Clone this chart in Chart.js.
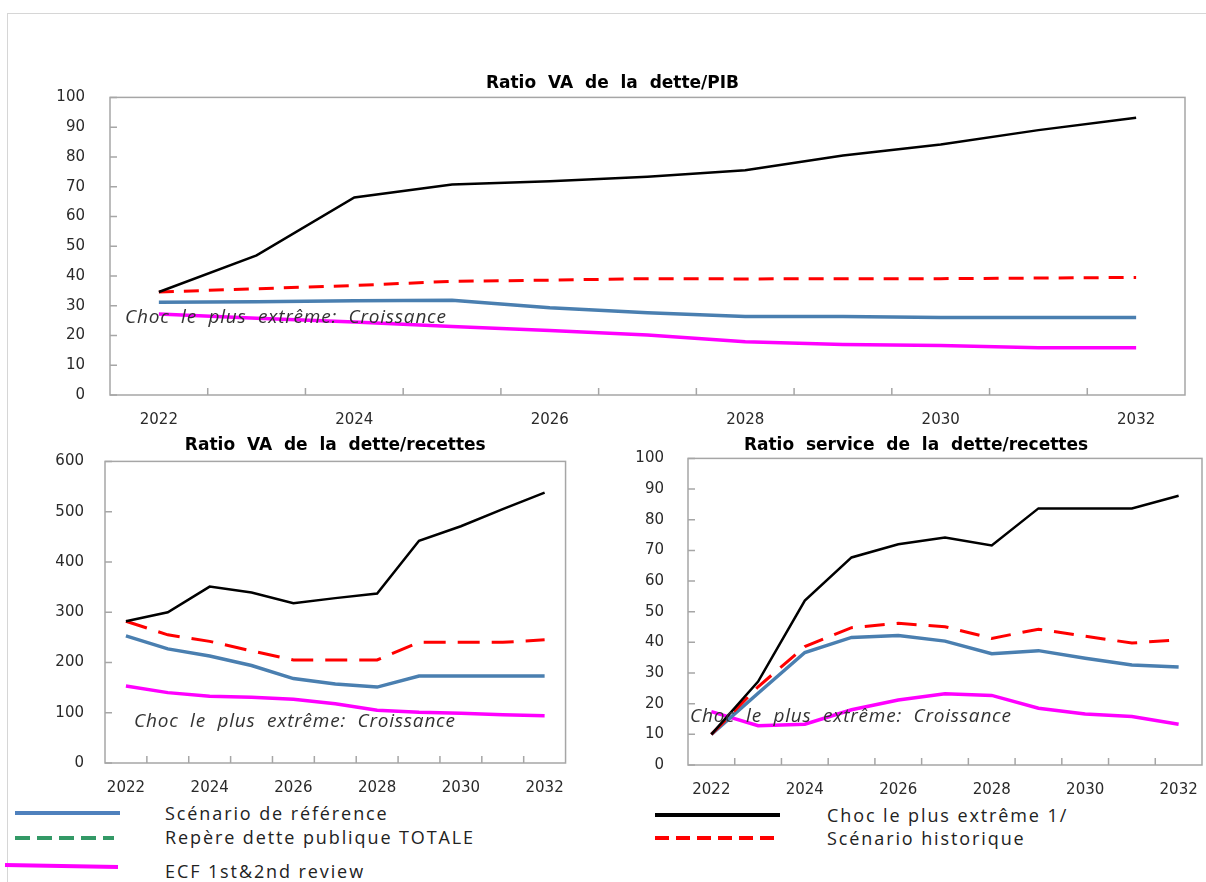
<!DOCTYPE html>
<html>
<head>
<meta charset="utf-8">
<script src="https://cdn.jsdelivr.net/npm/chart.js@4.4.1/dist/chart.umd.min.js"></script>
<style>
body { margin: 0; background: #fff; width: 1206px; height: 882px; position: relative; overflow: hidden; font-family: "DejaVu Sans", sans-serif; }
.frame { position: absolute; left: 7px; top: 13px; width: 1210px; height: 880px; border-left: 1px solid #d6d6d6; border-top: 1px solid #d6d6d6; }
canvas { position: absolute; }
.leg { position: absolute; font-family: "Open Sans", sans-serif; font-size: 18px; line-height: 24px; color: #222; letter-spacing: 1.9px; white-space: nowrap; }
svg { position: absolute; left: 0; top: 795px; }
</style>
</head>
<body>
<div class="frame"></div>
<canvas id="chartPib" width="1155" height="355" style="left:40px;top:70px"></canvas>
<canvas id="chartVaRec" width="537" height="361" style="left:35px;top:432px"></canvas>
<canvas id="chartServ" width="576" height="363" style="left:630px;top:432px"></canvas>

<svg width="1206" height="87">
  <line x1="15" y1="18" x2="120" y2="18" stroke="#4f81bd" stroke-width="4"/>
  <line x1="15" y1="43" x2="114" y2="43" stroke="#339966" stroke-width="4" stroke-dasharray="15 7"/>
  <line x1="5" y1="70" x2="118" y2="72" stroke="#ff00ff" stroke-width="4"/>
  <line x1="655" y1="20" x2="780" y2="20" stroke="#000" stroke-width="4"/>
  <line x1="655" y1="43" x2="780" y2="43" stroke="#ff0000" stroke-width="4" stroke-dasharray="14 7"/>
</svg>
<div class="leg" style="left:165px;top:801px">Scénario de référence</div>
<div class="leg" style="left:165px;top:825px">Repère dette publique TOTALE</div>
<div class="leg" style="left:165px;top:859px">ECF 1st&amp;2nd review</div>
<div class="leg" style="left:827px;top:803px">Choc le plus extrême 1/</div>
<div class="leg" style="left:827px;top:826px">Scénario historique</div>

<script>
const years = ["2022", "2023", "2024", "2025", "2026", "2027", "2028", "2029", "2030", "2031", "2032"];
const noteText = "Choc  le  plus  extrême:  Croissance";

// Ratio VA de la dette/PIB
const pibChoc = [34.6, 46.9, 66.4, 70.7, 71.8, 73.3, 75.5, 80.5, 84.2, 89.0, 93.2];
const pibHistorique = [34.6, 35.7, 36.8, 38.2, 38.6, 39.1, 39.0, 39.1, 39.1, 39.3, 39.5];
const pibReference = [31.2, 31.3, 31.7, 31.8, 29.3, 27.6, 26.4, 26.4, 26.0, 26.0, 26.0];
const pibEcf = [27.2, 25.8, 24.5, 23.0, 21.7, 20.2, 17.9, 17.0, 16.6, 15.9, 15.9];

// Ratio VA de la dette/recettes
const vaRecChoc = [282, 300, 351, 339, 318, 328, 337, 442, 471, 505, 538];
const vaRecHistorique = [282, 255, 242, 223, 205, 205, 205, 240, 240, 240, 245];
const vaRecReference = [253, 227, 213, 194, 168, 157, 151, 173, 173, 173, 173];
const vaRecEcf = [153, 140, 133, 131, 127, 118, 105, 101, 99, 96, 94];

// Ratio service de la dette/recettes
const servChoc = [10, 27.2, 53.6, 67.7, 72.0, 74.2, 71.6, 83.7, 83.7, 83.7, 87.8];
const servHistorique = [10, 25.5, 38.6, 44.8, 46.2, 45.1, 41.3, 44.3, 42.0, 39.8, 40.8];
const servReference = [10, 23.4, 36.7, 41.6, 42.2, 40.4, 36.3, 37.3, 34.8, 32.6, 32.0];
const servEcf = [17.4, 12.8, 13.3, 18.0, 21.2, 23.2, 22.7, 18.5, 16.6, 15.8, 13.3];

// cadre, petites graduations vers l'intérieur et note
const frameNote = {
    id: 'frameNote',
    afterDatasetsDraw(chart, args, opts) {
        const a = chart.chartArea;
        const ctx = chart.ctx;
        const yScale = chart.scales.y;
        ctx.save();
        ctx.strokeStyle = '#a6a6a6';
        ctx.lineWidth = 1.5;
        ctx.strokeRect(a.left, a.top, a.right - a.left, a.bottom - a.top);
        ctx.beginPath();
        yScale.ticks.forEach((t, i) => {
            const y = yScale.getPixelForTick(i);
            ctx.moveTo(a.left, y);
            ctx.lineTo(a.left + 7, y);
        });
        const n = chart.data.labels.length;
        const w = (a.right - a.left) / n;
        for (let i = 1; i < n; i++) {
            const x = a.left + i * w;
            ctx.moveTo(x, a.bottom);
            ctx.lineTo(x, a.bottom - 7);
        }
        ctx.stroke();
        ctx.font = 'italic 19px "Open Sans"';
        ctx.letterSpacing = '0.8px';
        ctx.fillStyle = '#333';
        ctx.textBaseline = 'middle';
        ctx.fillText(noteText, a.left + opts.dx, a.top + opts.dy);
        ctx.restore();
    }
};

function makeChart(id, cfg) {
    const ctx = document.getElementById(id).getContext('2d');
    return new Chart(ctx, {
        type: 'line',
        data: {
            labels: years,
            datasets: [
                { label: 'Choc le plus extrême 1/', data: cfg.choc, borderColor: '#000', borderWidth: 2.5 },
                { label: 'Scénario historique', data: cfg.hist, borderColor: '#ff0000', borderWidth: 3, borderDash: cfg.dash },
                { label: 'Scénario de référence', data: cfg.ref, borderColor: '#4a7fb0', borderWidth: 3.5 },
                { label: 'ECF 1st&2nd review', data: cfg.ecf, borderColor: '#ff00ff', borderWidth: 3.5 }
            ]
        },
        options: {
            responsive: false,
            animation: false,
            elements: { point: { radius: 0 }, line: { tension: 0, borderCapStyle: 'butt' } },
            layout: { padding: { right: cfg.rightPad, left: 0, top: 0, bottom: 0 } },
            plugins: {
                legend: { display: false },
                tooltip: { enabled: false },
                title: {
                    display: true,
                    text: cfg.title,
                    fullSize: cfg.fullSize,
                    color: '#000',
                    font: { family: 'DejaVu Sans', size: 17, weight: 'bold' },
                    padding: cfg.titlePad
                },
                frameNote: cfg.note
            },
            scales: {
                x: {
                    offset: true,
                    border: { display: false },
                    grid: { display: false },
                    ticks: {
                        autoSkip: false,
                        maxRotation: 0,
                        padding: 8,
                        color: '#2a2a2a',
                        font: { family: 'DejaVu Sans', size: 15 },
                        callback: (v, i) => (i % 2 === 0 ? years[i] : '')
                    },
                    afterFit: (s) => { s.height = 30; }
                },
                y: {
                    min: 0,
                    max: cfg.yMax,
                    border: { display: false },
                    grid: { display: false },
                    ticks: {
                        stepSize: cfg.yStep,
                        padding: cfg.yPad,
                        color: '#2a2a2a',
                        font: { family: 'DejaVu Sans', size: 15 }
                    },
                    afterFit: (s) => { s.width = cfg.yWidth; }
                }
            }
        },
        plugins: [frameNote]
    });
}

makeChart('chartPib', {
    title: 'Ratio  VA  de  la  dette/PIB', fullSize: true, titlePad: { top: 3, bottom: 4 },
    choc: pibChoc, hist: pibHistorique, ref: pibReference, ecf: pibEcf,
    dash: [15, 10], yMax: 100, yStep: 10, yWidth: 70, yPad: 17, rightPad: 10,
    note: { dx: 15, dy: 220 }
});

makeChart('chartVaRec', {
    title: 'Ratio  VA  de  la  dette/recettes', fullSize: false, titlePad: { top: 3, bottom: 6 },
    choc: vaRecChoc, hist: vaRecHistorique, ref: vaRecReference, ecf: vaRecEcf,
    dash: [22, 12], yMax: 600, yStep: 100, yWidth: 70, yPad: 13, rightPad: 5,
    note: { dx: 29, dy: 260 }
});

makeChart('chartServ', {
    title: 'Ratio  service  de  la  dette/recettes', fullSize: true, titlePad: { top: 3, bottom: 3 },
    choc: servChoc, hist: servHistorique, ref: servReference, ecf: servEcf,
    dash: [20, 12], yMax: 100, yStep: 10, yWidth: 58, yPad: 16, rightPad: 4,
    note: { dx: 2, dy: 258 }
});
</script>
</body>
</html>
